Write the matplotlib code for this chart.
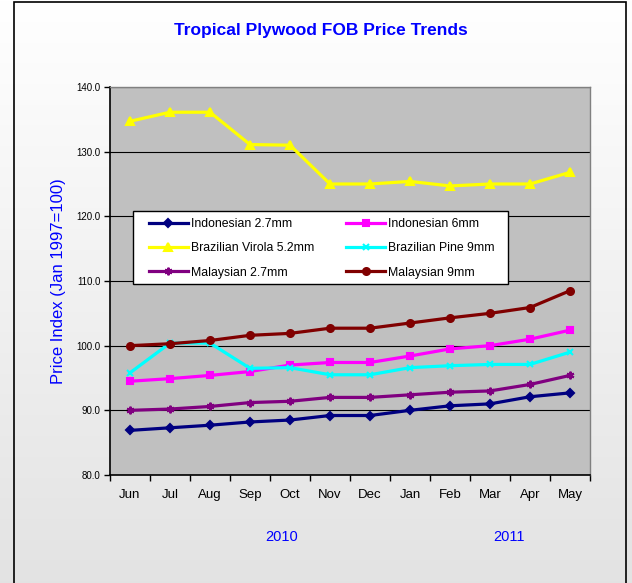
import matplotlib
matplotlib.use("Agg")
import matplotlib.pyplot as plt
import numpy as np
from matplotlib.patches import Rectangle

plt.rcParams['font.family'] = ['Liberation Sans', 'DejaVu Sans']

months = ["Jun", "Jul", "Aug", "Sep", "Oct", "Nov", "Dec", "Jan", "Feb", "Mar", "Apr", "May"]
indonesian_27 = [86.9, 87.3, 87.7, 88.2, 88.5, 89.2, 89.2, 90.0, 90.7, 91.0, 92.1, 92.7]
indonesian_6 = [94.5, 94.9, 95.4, 96.0, 97.0, 97.4, 97.4, 98.4, 99.5, 100.0, 101.0, 102.4]
brazil_virola = [134.7, 136.1, 136.1, 131.1, 131.0, 125.0, 125.0, 125.4, 124.7, 125.0, 125.0, 126.8]
brazil_pine = [95.8, 100.4, 100.4, 96.5, 96.6, 95.5, 95.5, 96.6, 96.9, 97.1, 97.1, 99.0]
malaysian_27 = [90.0, 90.2, 90.6, 91.2, 91.4, 92.0, 92.0, 92.4, 92.8, 93.0, 94.0, 95.4]
malaysian_9 = [100.0, 100.3, 100.8, 101.6, 101.9, 102.7, 102.7, 103.5, 104.3, 105.0, 105.9, 108.5]
years = ["2010", "2011"]

W, H = 632, 583
fig = plt.figure(figsize=(W/100, H/100), dpi=100)

# gradient background
bg = fig.add_axes([0, 0, 1, 1], zorder=-10)
grad = np.linspace(1.0, 0.89, 256).reshape(-1, 1)
bg.imshow(np.dstack([grad, grad, grad]), aspect='auto', extent=[0, 1, 0, 1], origin='upper')
bg.set_xlim(0, 1); bg.set_ylim(0, 1); bg.axis('off')
fig.patches.append(Rectangle((13.5/W, -0.01), (626-13.5)/W, 1 - 1.5/H + 0.01, transform=fig.transFigure,
                             fill=False, edgecolor='black', linewidth=1.2, zorder=-5))

L, R, T, B = 110, 590, 87, 475
ax = fig.add_axes([L/W, 1 - B/H, (R-L)/W, (B-T)/H])
ax.set_facecolor('#c0c0c0')
x = np.arange(len(months))

styles = [
    (indonesian_27, "Indonesian 2.7mm", '#000080', 'D', 4),
    (indonesian_6, "Indonesian 6mm", '#ff00ff', 's', 5),
    (brazil_virola, "Brazilian Virola 5.2mm", '#ffff00', '^', 5.5),
    (brazil_pine, "Brazilian Pine 9mm", '#00ffff', 'x', 5),
    (malaysian_27, "Malaysian 2.7mm", '#800080', (6, 2, 0), 5.5),
    (malaysian_9, "Malaysian 9mm", '#800000', 'o', 5),
]
handles = {}
for data, label, color, mk, ms in styles:
    h, = ax.plot(x, data, color=color, lw=2.3, marker=mk, markersize=ms,
                 markeredgecolor=color, markerfacecolor=color, markeredgewidth=1.5, label=label, zorder=3)
    handles[label] = h

ax.set_xlim(-0.5, 11.5)
ax.set_ylim(80, 140)
ax.set_yticks(np.arange(80, 141, 10))
ax.set_yticklabels([f"{v:.1f}" for v in range(80, 141, 10)], fontsize=7)
ax.yaxis.grid(True, color='black', lw=0.8)
ax.set_axisbelow(True)
ax.set_xticks(x)
ax.set_xticklabels(months, fontsize=9.5)
ax.set_xticks(np.arange(-0.5, 12, 1), minor=True)
ax.tick_params(axis='x', which='major', length=0, pad=10)
ax.tick_params(axis='x', which='minor', length=4, direction='out', width=1)
ax.tick_params(axis='y', length=4, direction='out', width=1, pad=3)
for s in ['left', 'bottom']:
    ax.spines[s].set_color('black'); ax.spines[s].set_linewidth(1.2)
for s in ['top', 'right']:
    ax.spines[s].set_color('#808080'); ax.spines[s].set_linewidth(1.0)

# legend frame drawn separately for exact placement
ax.add_patch(Rectangle((0.048, 0.492), 0.781, 0.188, transform=ax.transAxes,
                       facecolor='white', edgecolor='black', lw=1.0, zorder=4.5))
order = ["Indonesian 2.7mm", "Brazilian Virola 5.2mm", "Malaysian 2.7mm",
         "Indonesian 6mm", "Brazilian Pine 9mm", "Malaysian 9mm"]
leg = ax.legend([handles[k] for k in order], order, ncol=2, loc='upper left',
                bbox_to_anchor=(0.081, 0.662),
                fontsize=8.8, frameon=False, handlelength=3.2, handletextpad=0.25,
                borderaxespad=0, labelspacing=1.0, borderpad=0, columnspacing=2.6)
leg.set_zorder(5)

fig.text(321/W, 1 - 30/H, "Tropical Plywood FOB Price Trends", color='#0000ff',
         fontsize=12.5, fontweight='bold', ha='center', va='center')
fig.text(58/W, 1 - 281/H, "Price Index (Jan 1997=100)", color='#0000ff',
         fontsize=12, rotation=90, ha='center', va='center')
fig.text(282/W, 1 - 537/H, years[0], color='#0000ff', fontsize=10.5, ha='center', va='center')
fig.text(509/W, 1 - 537/H, years[1], color='#0000ff', fontsize=10.5, ha='center', va='center')

fig.savefig("out.png", dpi=100)
